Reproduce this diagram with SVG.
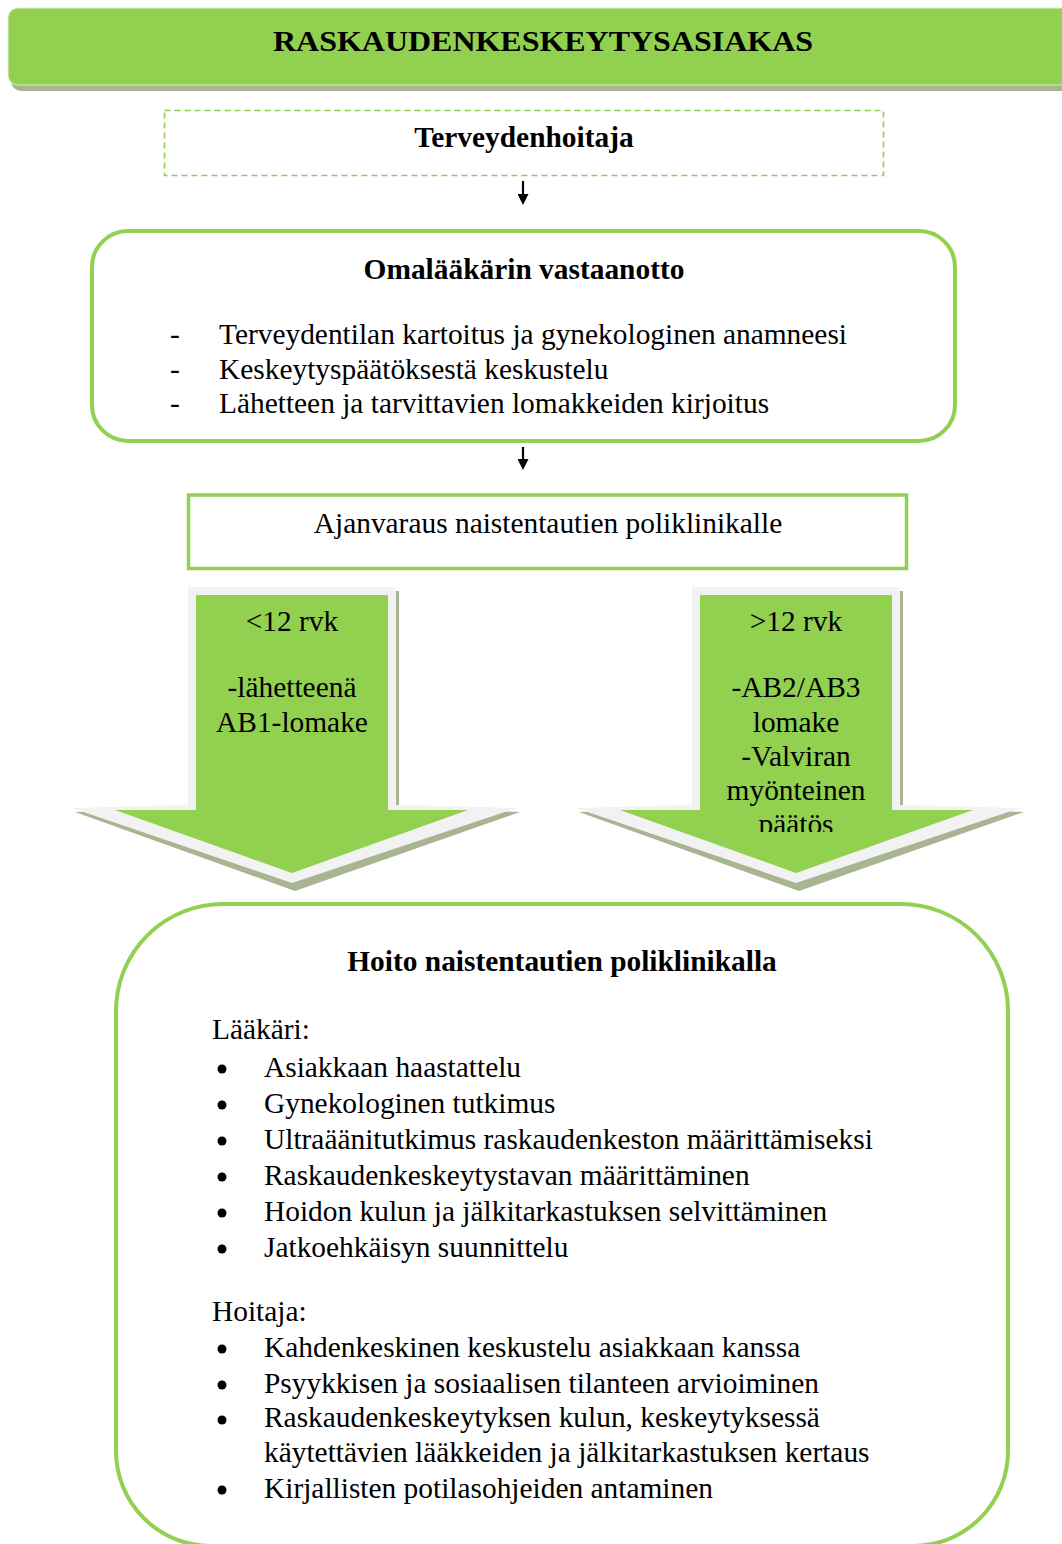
<svg xmlns="http://www.w3.org/2000/svg" width="1062" height="1544" viewBox="0 0 1062 1544">
<style>
text{font-family:"Liberation Serif","Times New Roman",serif;fill:#000;font-size:29.4px}
.b{font-weight:bold}
.c{text-anchor:middle}
.g{fill:#92d050}
.lg{fill:#f2f2f2}
.sh{fill:#a9b493}
.box{fill:#fff;stroke:#92d050}
</style>
<defs>
<marker id="ah" viewBox="0 0 10 10" refX="0" refY="5" markerWidth="13" markerHeight="11" markerUnits="userSpaceOnUse" orient="auto">
<path d="M0,0 L10,5 L0,10 z" fill="#000"/>
</marker>
<clipPath id="clipR"><rect x="680" y="580" width="240" height="252"/></clipPath>
</defs>

<g id="title">
<rect class="sh" x="11" y="13" width="1080" height="78" rx="10"/>
<rect class="g" x="8" y="8" width="1080" height="77" rx="10" stroke="#e4ead9" stroke-width="1"/>
<text class="b c" x="543" y="51" font-size="30" textLength="540" lengthAdjust="spacingAndGlyphs">RASKAUDENKESKEYTYSASIAKAS</text>
</g>

<g id="terveydenhoitaja">
<rect x="164.5" y="110.5" width="719" height="65" fill="#fff" stroke="#92d050" stroke-width="1.6" stroke-dasharray="6,4"/>
<text class="b c" x="524" y="147">Terveydenhoitaja</text>
</g>

<g id="omalaakari">
<rect class="box" x="92" y="231" width="863" height="210" rx="36" stroke-width="4"/>
<text class="b c" x="524" y="279">Omalääkärin vastaanotto</text>
<text x="170" y="344">-</text><text x="219" y="344">Terveydentilan kartoitus ja gynekologinen anamneesi</text>
<text x="170" y="378.5">-</text><text x="219" y="378.5">Keskeytyspäätöksestä keskustelu</text>
<text x="170" y="412.5">-</text><text x="219" y="412.5">Lähetteen ja tarvittavien lomakkeiden kirjoitus</text>
</g>

<g id="ajanvaraus">
<rect class="box" x="188.5" y="495" width="718" height="73.5" stroke-width="3.5"/>
<text class="c" x="548" y="533">Ajanvaraus naistentautien poliklinikalle</text>
</g>

<g id="arrow-alle12">
<polygon class="sh" points="191,591 399,591 399,808 520,812 295,891 75,812 191,808"/>
<polygon class="lg" points="188,587 396,587 396,805 517,808 292,883 72,808 188,805"/>
<polygon class="g" points="196,595 388,595 388,810 468,810 292,873 115,810 196,810"/>
<text class="c" x="292" y="631">&lt;12 rvk</text>
<text class="c" x="292" y="697">-lähetteenä</text>
<text class="c" x="292" y="732">AB1-lomake</text>
</g>

<g id="arrow-yli12">
<polygon class="sh" points="695,591 903,591 903,808 1024,812 799,891 579,812 695,808"/>
<polygon class="lg" points="692,587 900,587 900,805 1020,808 796,883 576,808 692,805"/>
<polygon class="g" points="700,595 892,595 892,810 973,810 796,873 620,810 700,810"/>
<g clip-path="url(#clipR)">
<text class="c" x="796" y="631">&gt;12 rvk</text>
<text class="c" x="796" y="697">-AB2/AB3</text>
<text class="c" x="796" y="732">lomake</text>
<text class="c" x="796" y="765.5">-Valviran</text>
<text class="c" x="796" y="799.5">myönteinen</text>
<text class="c" x="796" y="834">päätös</text>
</g>
</g>

<g id="hoito">
<path class="box" stroke-width="4" d="M223,904 L901,904 A107,107 0 0 1 1008,1011 L1008,1451 A95,95 0 0 1 913,1546 L211,1546 A95,95 0 0 1 116,1451 L116,1011 A107,107 0 0 1 223,904 Z"/>
<text class="b c" x="562" y="971">Hoito naistentautien poliklinikalla</text>
<text x="212" y="1039">Lääkäri:</text>
<g fill="#000">
<circle cx="222" cy="1069" r="4.5"/><circle cx="222" cy="1105" r="4.5"/><circle cx="222" cy="1141" r="4.5"/>
<circle cx="222" cy="1177" r="4.5"/><circle cx="222" cy="1213" r="4.5"/><circle cx="222" cy="1249" r="4.5"/>
<circle cx="222" cy="1349" r="4.5"/><circle cx="222" cy="1385" r="4.5"/><circle cx="222" cy="1420" r="4.5"/>
<circle cx="222" cy="1490" r="4.5"/>
</g>
<text x="264" y="1077">Asiakkaan haastattelu</text>
<text x="264" y="1113">Gynekologinen tutkimus</text>
<text x="264" y="1149">Ultraäänitutkimus raskaudenkeston määrittämiseksi</text>
<text x="264" y="1185">Raskaudenkeskeytystavan määrittäminen</text>
<text x="264" y="1221">Hoidon kulun ja jälkitarkastuksen selvittäminen</text>
<text x="264" y="1257">Jatkoehkäisyn suunnittelu</text>
<text x="212" y="1321">Hoitaja:</text>
<text x="264" y="1357">Kahdenkeskinen keskustelu asiakkaan kanssa</text>
<text x="264" y="1393">Psyykkisen ja sosiaalisen tilanteen arvioiminen</text>
<text x="264" y="1427">Raskaudenkeskeytyksen kulun, keskeytyksessä</text>
<text x="264" y="1462">käytettävien lääkkeiden ja jälkitarkastuksen kertaus</text>
<text x="264" y="1498">Kirjallisten potilasohjeiden antaminen</text>
</g>

<g id="connectors" stroke="#000" stroke-width="2.2">
<line x1="523" y1="181" x2="523" y2="194" marker-end="url(#ah)"/>
<line x1="523" y1="447" x2="523" y2="459" marker-end="url(#ah)"/>
</g>
</svg>
